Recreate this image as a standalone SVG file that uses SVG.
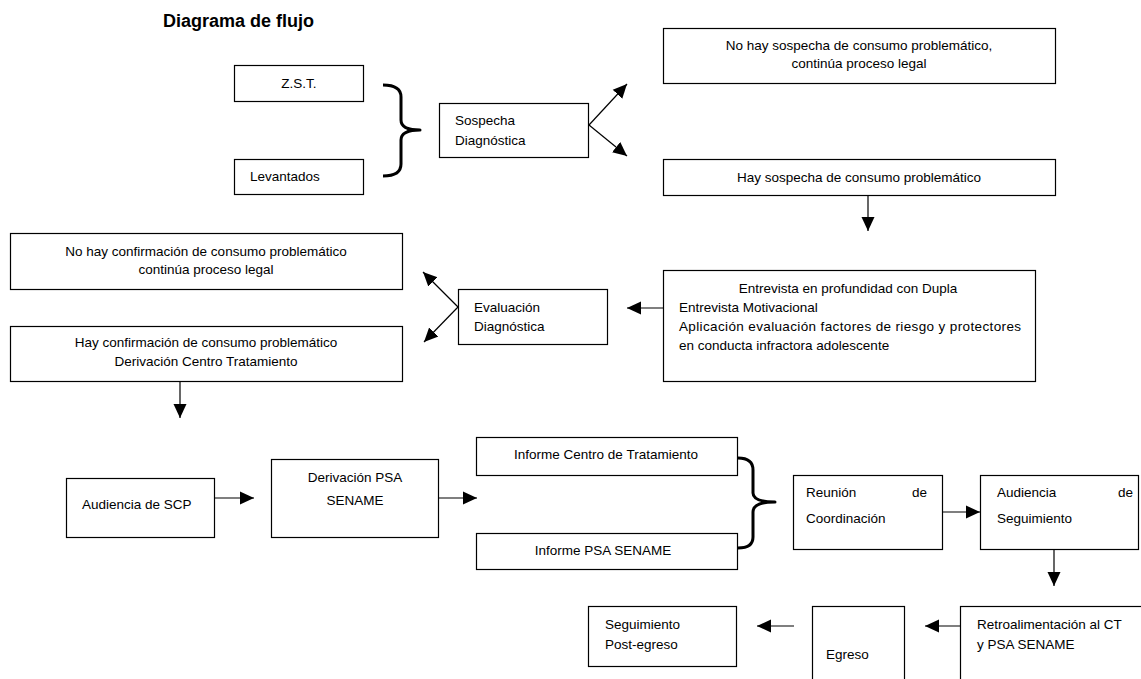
<svg xmlns="http://www.w3.org/2000/svg" width="1141" height="679" viewBox="0 0 1141 679">
<style>
.box{fill:#fff;stroke:#000;stroke-width:1.2}
.t{font-family:"Liberation Sans",Arial,sans-serif;font-size:13.5px;fill:#000}
.c{text-anchor:middle}
.title{font-family:"Liberation Sans",Arial,sans-serif;font-size:18px;font-weight:bold;fill:#000}
.ln{fill:none;stroke:#000;stroke-width:1.2}
.br{fill:none;stroke:#000;stroke-width:3;stroke-linejoin:round}
</style>
<defs>
<marker id="ah" markerUnits="userSpaceOnUse" markerWidth="16" markerHeight="16" refX="14" refY="7.5" orient="auto">
<path d="M0,1 L14,7.5 L0,14 z" fill="#000"/>
</marker>
</defs>
<rect width="1141" height="679" fill="#fff"/>
<text class="title" x="163" y="27">Diagrama de flujo</text>

<g id="zst"><rect class="box" x="234.5" y="65.5" width="129" height="36"/><text class="t c" x="299" y="88">Z.S.T.</text></g>
<g id="levantados"><rect class="box" x="234.5" y="159.5" width="129" height="35"/><text class="t" x="250" y="181">Levantados</text></g>
<g id="sospecha"><rect class="box" x="439.5" y="103.5" width="149" height="54"/><text class="t" x="455" y="125">Sospecha</text><text class="t" x="455" y="145">Diagnóstica</text></g>
<g id="no-sospecha"><rect class="box" x="663.5" y="28.5" width="392" height="55"/><text class="t c" x="859" y="50">No hay sospecha de consumo problemático,</text><text class="t c" x="859" y="68">continúa proceso legal</text></g>
<g id="hay-sospecha"><rect class="box" x="663.5" y="159.5" width="392" height="36"/><text class="t c" x="859" y="182">Hay sospecha de consumo problemático</text></g>
<g id="entrevista"><rect class="box" x="663.5" y="270.5" width="372" height="111"/>
<text class="t c" x="848" y="293">Entrevista en profundidad con Dupla</text>
<text class="t" x="679" y="312">Entrevista Motivacional</text>
<text class="t" x="679" y="331" textLength="342" lengthAdjust="spacing">Aplicación evaluación factores de riesgo y protectores</text>
<text class="t" x="679" y="350">en conducta infractora adolescente</text></g>
<g id="evaluacion"><rect class="box" x="458.5" y="289.5" width="149" height="55"/><text class="t" x="474" y="312">Evaluación</text><text class="t" x="474" y="331">Diagnóstica</text></g>
<g id="no-confirmacion"><rect class="box" x="10.5" y="233.5" width="392" height="56"/><text class="t c" x="206" y="256">No hay confirmación de consumo problemático</text><text class="t c" x="206" y="274">continúa proceso legal</text></g>
<g id="hay-confirmacion"><rect class="box" x="10.5" y="326.5" width="392" height="55"/><text class="t c" x="206" y="347">Hay confirmación de consumo problemático</text><text class="t c" x="206" y="366">Derivación Centro Tratamiento</text></g>

<g id="audiencia-scp"><rect class="box" x="66.5" y="478.5" width="148" height="59"/><text class="t" x="82" y="509">Audiencia  de SCP</text></g>
<g id="derivacion-psa"><rect class="box" x="271.5" y="459.5" width="167" height="78"/><text class="t c" x="355" y="482">Derivación PSA</text><text class="t c" x="355" y="505">SENAME</text></g>
<g id="informe-ct"><rect class="box" x="476.5" y="437.5" width="261" height="38"/><text class="t c" x="606" y="459">Informe Centro  de Tratamiento</text></g>
<g id="informe-psa"><rect class="box" x="476.5" y="533.5" width="261" height="36"/><text class="t c" x="603" y="555">Informe PSA SENAME</text></g>
<g id="reunion"><rect class="box" x="793.5" y="475.5" width="149" height="74"/><text class="t" x="806" y="497">Reunión</text><text class="t" x="927" y="497" text-anchor="end">de</text><text class="t" x="806" y="523">Coordinación</text></g>
<g id="audiencia-seg"><rect class="box" x="980.5" y="475.5" width="158" height="74"/><text class="t" x="997" y="497">Audiencia</text><text class="t" x="1133" y="497" text-anchor="end">de</text><text class="t" x="997" y="523">Seguimiento</text></g>
<g id="retro"><rect class="box" x="960.5" y="606.5" width="190" height="90"/><text class="t" x="977" y="629">Retroalimentación  al  CT</text><text class="t" x="977" y="649">y PSA SENAME</text></g>
<g id="egreso"><rect class="box" x="812.5" y="606.5" width="92" height="90"/><text class="t" x="826" y="659">Egreso</text></g>
<g id="post-egreso"><rect class="box" x="588.5" y="606.5" width="148" height="60"/><text class="t" x="605" y="629">Seguimiento</text><text class="t" x="605" y="649">Post-egreso</text></g>

<g id="connectors">
<path class="br" d="M383,85 Q401,85 401,97 V120 Q401,130 420,130 Q401,130 401,140 V164 Q401,176 383,176"/>
<path class="br" d="M738,458 Q753,458 753,470 V493 Q753,502 775,502 Q753,502 753,512 V537 Q753,548 738,548"/>
<line class="ln" x1="589" y1="125" x2="627" y2="84" marker-end="url(#ah)"/>
<line class="ln" x1="589" y1="125" x2="627" y2="156" marker-end="url(#ah)"/>
<line class="ln" x1="868" y1="196" x2="868" y2="231" marker-end="url(#ah)"/>
<line class="ln" x1="663" y1="308" x2="627" y2="308" marker-end="url(#ah)"/>
<line class="ln" x1="458" y1="307" x2="423" y2="272" marker-end="url(#ah)"/>
<line class="ln" x1="458" y1="307" x2="424" y2="342" marker-end="url(#ah)"/>
<line class="ln" x1="180" y1="382" x2="180" y2="418" marker-end="url(#ah)"/>
<line class="ln" x1="215" y1="498" x2="254" y2="498" marker-end="url(#ah)"/>
<line class="ln" x1="439" y1="498" x2="477" y2="498" marker-end="url(#ah)"/>
<line class="ln" x1="943" y1="512" x2="980" y2="512" marker-end="url(#ah)"/>
<line class="ln" x1="1054" y1="550" x2="1054" y2="586" marker-end="url(#ah)"/>
<line class="ln" x1="960" y1="626" x2="925" y2="626" marker-end="url(#ah)"/>
<line class="ln" x1="794" y1="626" x2="757" y2="626" marker-end="url(#ah)"/>
</g>
</svg>
